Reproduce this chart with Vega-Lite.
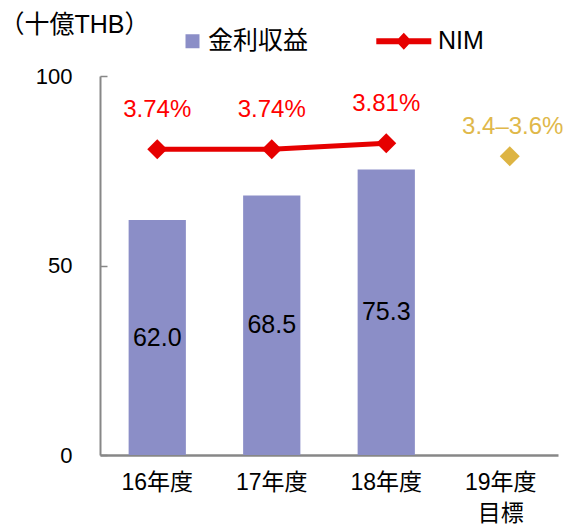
{
  "$schema": "https://vega.github.io/schema/vega-lite/v6.json",
  "width": 458,
  "height": 379,
  "autosize": {"type": "none"},
  "padding": {"left": 100, "top": 76, "right": 10, "bottom": 73},
  "background": "white",
  "config": {
    "view": {"stroke": null},
    "font": "Liberation Sans, Noto Sans CJK JP"
  },
  "data": {
    "values": [
      {"year": "16年度", "income": 62.0, "nim": 3.74, "nimText": "3.74%"},
      {"year": "17年度", "income": 68.5, "nim": 3.74, "nimText": "3.74%"},
      {"year": "18年度", "income": 75.3, "nim": 3.81, "nimText": "3.81%"},
      {"year": "19年度目標", "target": 3.66, "targetText": "3.4–3.6%"}
    ]
  },
  "encoding": {
    "x": {
      "field": "year",
      "type": "nominal",
      "sort": null,
      "scale": {"paddingInner": 0.5, "paddingOuter": 0.25},
      "axis": {
        "title": null,
        "labelAngle": 0,
        "labelFontSize": 23,
        "labelColor": "black",
        "ticks": false,
        "labelPadding": 16,
        "labelLineHeight": 31,
        "domainColor": "#878787",
        "domainWidth": 2.5,
        "labelExpr": "datum.value == '19年度目標' ? ['19年度', '目標'] : datum.value"
      }
    }
  },
  "layer": [
    {
      "mark": {"type": "bar"},
      "encoding": {
        "y": {
          "field": "income",
          "type": "quantitative",
          "scale": {"domain": [0, 100], "nice": false},
          "axis": {
            "values": [0, 50, 100],
            "grid": false,
            "title": "（十億THB）",
            "titleAngle": 0,
            "titleAlign": "left",
            "titleBaseline": "middle",
            "titleX": -101,
            "titleY": -52,
            "titleFontSize": 25,
            "titleFontWeight": "normal",
            "titleColor": "black",
            "labelFontSize": 22,
            "labelColor": "black",
            "tickSize": -7,
            "tickColor": "#878787",
            "tickWidth": 1.5,
            "labelPadding": 35,
            "domainColor": "#878787",
            "domainWidth": 2
          }
        },
        "color": {
          "datum": "金利収益",
          "scale": {"domain": ["金利収益", "NIM"], "range": ["#8B8EC7", "#E60000"]},
          "legend": {
            "orient": "none",
            "legendX": 61.3,
            "legendY": -47.5,
            "direction": "horizontal",
            "title": null,
            "symbolSize": 400,
            "labelFontSize": 25,
            "labelColor": "black",
            "labelOffset": 21.7,
            "columnPadding": 68,
            "labelLimit": 300,
            "padding": 0,
            "encode": {
              "symbols": {
                "update": {
                  "shape": {"signal": "datum.value === 'NIM' ? 'M-2.75,-0.3L2.75,-0.3L2.75,0.3L-2.75,0.3Z M-0.8,0L0,-0.85L0.8,0L0,0.85Z' : 'M1.17,-0.7L2.57,-0.7L2.57,0.7L1.17,0.7Z'"},
                  "fill": {"signal": "datum.value === 'NIM' ? '#E60000' : '#8B8EC7'"},
                  "stroke": {"value": "transparent"},
                  "strokeWidth": {"value": 0},
                  "opacity": {"value": 1}
                }
              }
            }
          }
        }
      }
    },
    {
      "mark": {"type": "text", "fontSize": 25, "color": "black", "baseline": "middle"},
      "encoding": {
        "y": {"field": "income", "type": "quantitative", "scale": {"domain": [0, 200], "nice": false}, "axis": null},
        "text": {"field": "income", "type": "quantitative", "format": ".1f"}
      }
    },
    {
      "mark": {"type": "line", "strokeWidth": 5, "point": {"shape": "diamond", "size": 400, "filled": true, "opacity": 1}},
      "encoding": {
        "y": {"field": "nim", "type": "quantitative", "scale": {"domain": [0.167, 4.597], "nice": false, "zero": false}, "axis": null},
        "color": {"datum": "NIM"}
      }
    },
    {
      "mark": {"type": "text", "fontSize": 24, "color": "#FF0000", "baseline": "middle", "dy": -39},
      "encoding": {
        "y": {"field": "nim", "type": "quantitative", "scale": {"domain": [0.167, 4.597], "nice": false, "zero": false}, "axis": null},
        "text": {"field": "nimText"}
      }
    },
    {
      "mark": {"type": "point", "shape": "diamond", "size": 400, "filled": true, "color": "#DDB443", "opacity": 1, "xOffset": 9},
      "encoding": {
        "y": {"field": "target", "type": "quantitative", "scale": {"domain": [0.167, 4.597], "nice": false, "zero": false}, "axis": null}
      }
    },
    {
      "mark": {"type": "text", "fontSize": 24, "color": "#E0B84A", "baseline": "middle", "dy": -29, "dx": 12},
      "encoding": {
        "y": {"field": "target", "type": "quantitative", "scale": {"domain": [0.167, 4.597], "nice": false, "zero": false}, "axis": null},
        "text": {"field": "targetText"}
      }
    }
  ],
  "resolve": {"scale": {"y": "independent"}}
}
